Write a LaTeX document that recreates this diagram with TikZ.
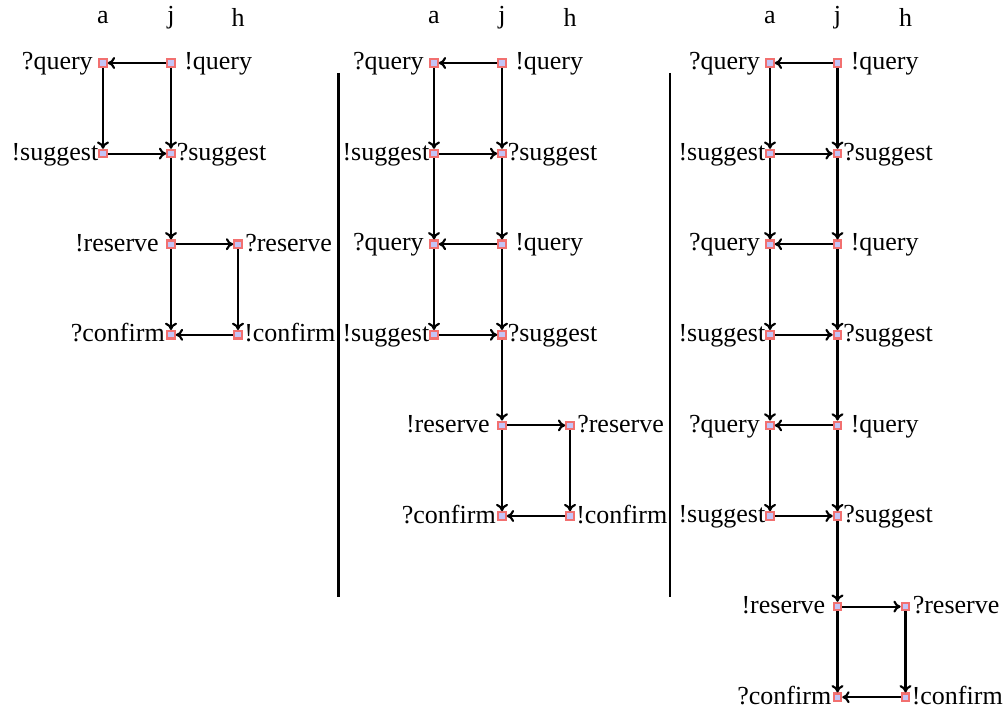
\documentclass[tikz,border=0pt]{standalone}
\usepackage{fontspec}
\setmainfont{Liberation Serif}
\usetikzlibrary{arrows.meta,calc}
\definecolor{stborder}{HTML}{F27070}
\definecolor{stfill}{HTML}{C4C4F6}
\begin{document}
\begin{tikzpicture}[x=0.75pt,y=-0.75pt,
  st/.style={rectangle,draw=stborder,fill=stfill,line width=1.6pt,minimum size=5.6pt,inner sep=0pt},
  ar/.style={line width=1.6pt,-{To[length=5.5pt,width=9pt]}},
  lbl/.style={inner sep=0pt,font=\fontsize{19.5}{23}\selectfont},
  hd/.style={inner sep=0pt,font=\fontsize{19.5}{23}\selectfont},
  divider/.style={line width=1.6pt}]
\useasboundingbox (0,0) rectangle (1006,713);
\foreach \p/\xa/\xj/\xh/\n in {1/103/171/238/1, 2/434/502/570/2, 3/770/837.5/905.5/3}{
  \node[hd] (ha\p) at (\xa,17.5) {a};
  \node[hd] (hj\p) at (\xj,17.5) {j};
  \node[hd] (hh\p) at (\xh,17.5) {h};
  \foreach \k in {1,...,\n}{
    \pgfmathsetmacro\yq{63+90.6*(2*\k-2)}
    \pgfmathsetmacro\ys{\yq+90.6}
    \node[st] (a\p q\k) at (\xa,\yq) {};
    \node[st] (j\p q\k) at (\xj,\yq) {};
    \node[st] (a\p s\k) at (\xa,\ys) {};
    \node[st] (j\p s\k) at (\xj,\ys) {};
    \node[lbl,anchor=base east] (la\p q\k) at ($(a\p q\k)+(-10,6.6)$) {?query};
    \node[lbl,anchor=base west] (lj\p q\k) at ($(j\p q\k)+(13,6.6)$) {!query};
    \node[lbl,anchor=base east] (la\p s\k) at ($(a\p s\k)+(-4.5,6.6)$) {!suggest};
    \node[lbl,anchor=base west] (lj\p s\k) at ($(j\p s\k)+(5.5,6.6)$) {?suggest};
    \draw[ar] (j\p q\k) -- (a\p q\k);
    \draw[ar] (a\p q\k) -- (a\p s\k);
    \draw[ar] (j\p q\k) -- (j\p s\k);
    \draw[ar] (a\p s\k) -- (j\p s\k);
    \ifnum\k>1
      \pgfmathtruncatemacro\km{\k-1}
      \draw[ar] (a\p s\km) -- (a\p q\k);
      \draw[ar] (j\p s\km) -- (j\p q\k);
    \fi
  }
  \pgfmathsetmacro\yr{63+90.6*(2*\n)}
  \pgfmathsetmacro\yc{\yr+90.6}
  \node[st] (j\p r) at (\xj,\yr) {};
  \node[st] (h\p r) at (\xh,\yr) {};
  \node[st] (j\p c) at (\xj,\yc) {};
  \node[st] (h\p c) at (\xh,\yc) {};
  \node[lbl,anchor=base east] (lj\p r) at ($(j\p r)+(-12,7.2)$) {!reserve};
  \node[lbl,anchor=base west] (lh\p r) at ($(h\p r)+(7,7.2)$) {?reserve};
  \node[lbl,anchor=base east] (lj\p c) at ($(j\p c)+(-6,7)$) {?confirm};
  \node[lbl,anchor=base west] (lh\p c) at ($(h\p c)+(6,7)$) {!confirm};
  \draw[ar] (j\p s\n) -- (j\p r);
  \draw[ar] (j\p r) -- (h\p r);
  \draw[ar] (j\p r) -- (j\p c);
  \draw[ar] (h\p r) -- (h\p c);
  \draw[ar] (h\p c) -- (j\p c);
}
\coordinate (d1t) at (338.5,73);
\coordinate (d1b) at (338.5,597);
\coordinate (d2t) at (670,73);
\coordinate (d2b) at (670,597);
\draw[divider] (d1t) -- (d1b);
\draw[divider] (d2t) -- (d2b);
\end{tikzpicture}
\end{document}
